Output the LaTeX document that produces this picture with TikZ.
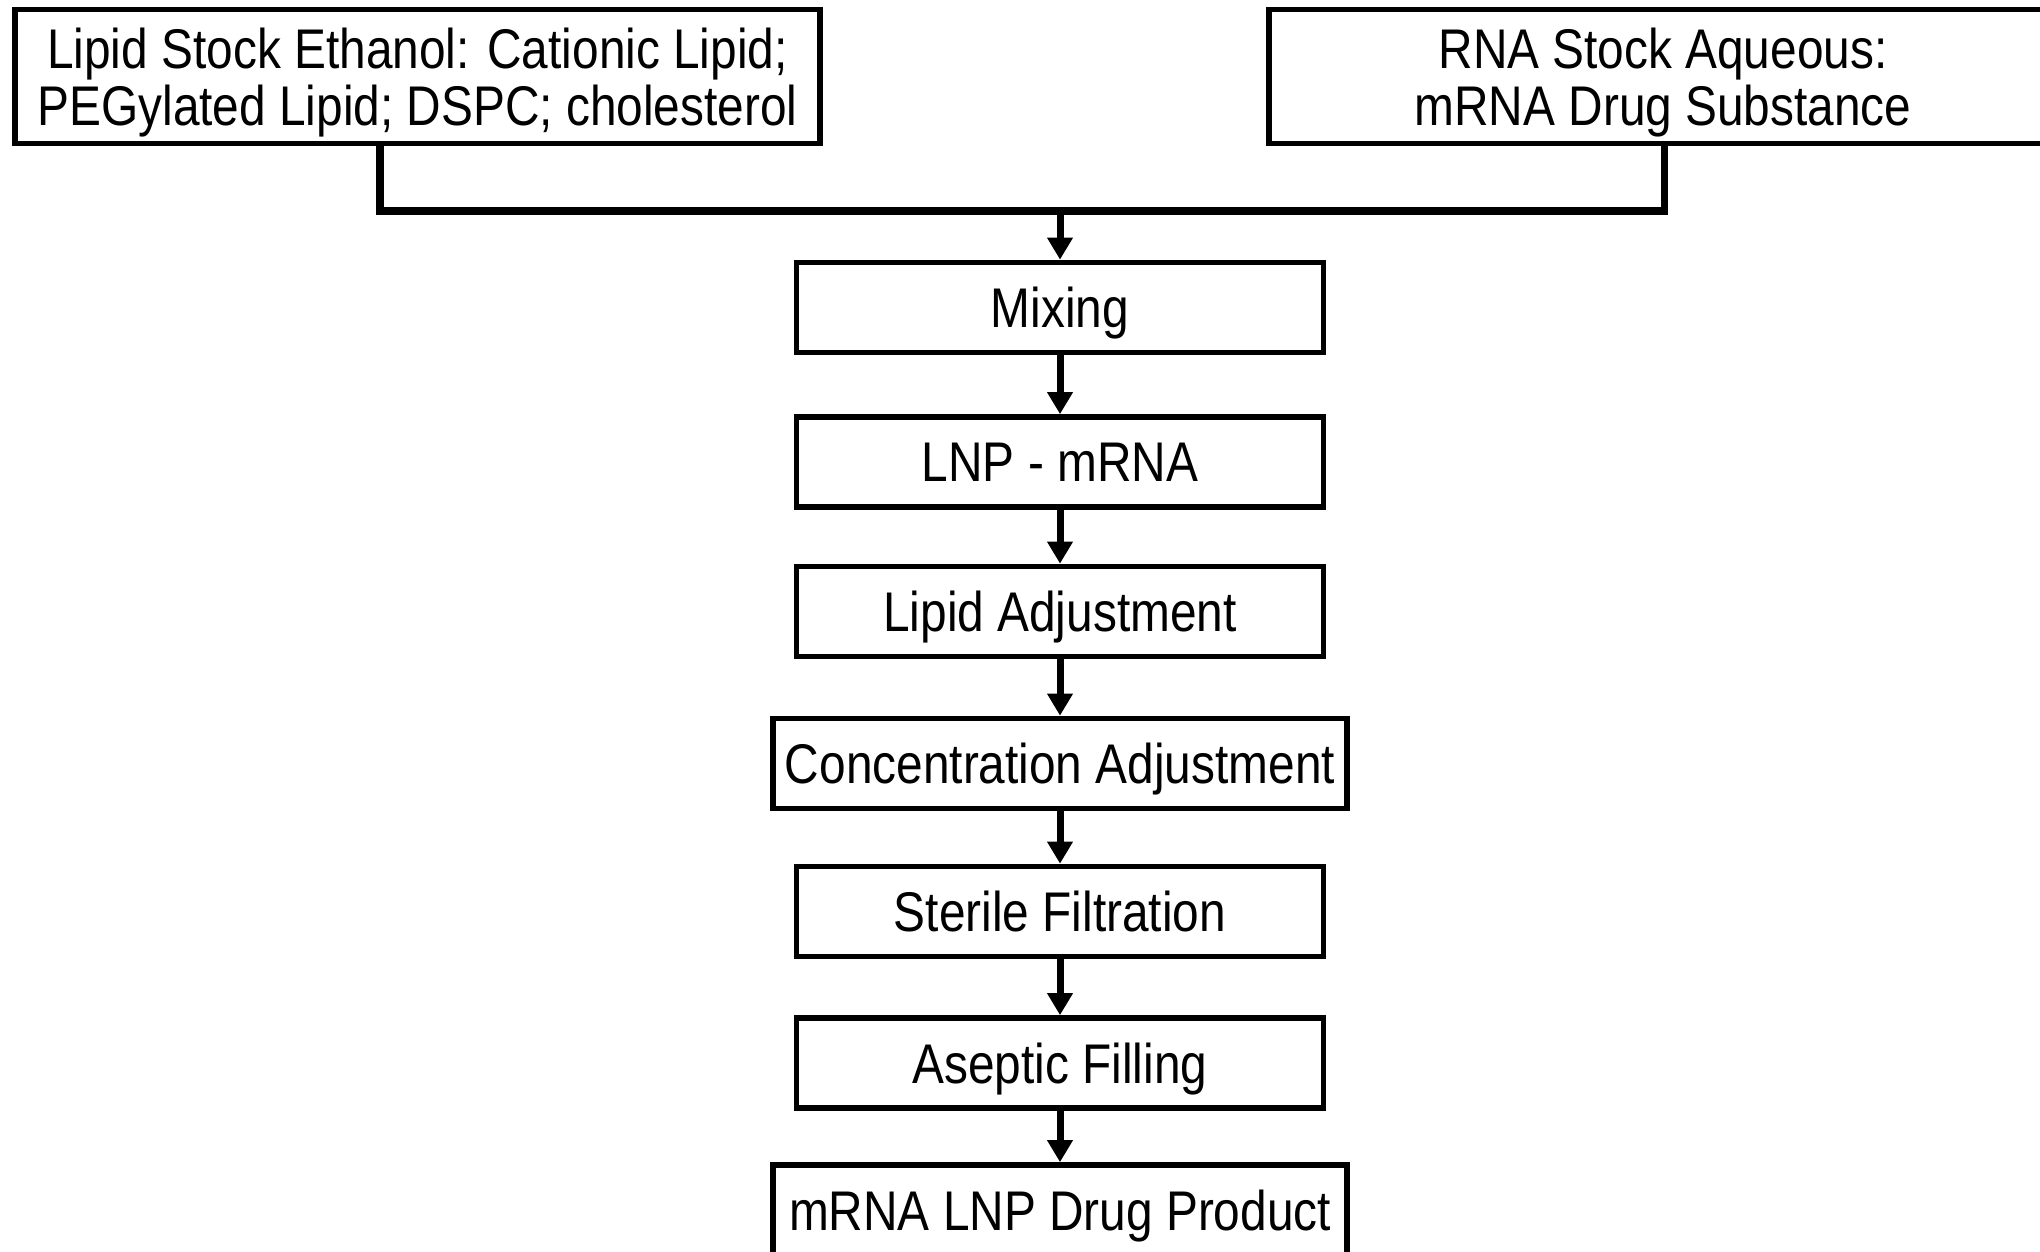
\documentclass[tikz,border=0pt]{standalone}
\usepackage{fontspec}
\setmainfont{Liberation Sans}
\newfontfamily\flowfont{Liberation Sans}[FakeStretch=0.855]
\usetikzlibrary{arrows.meta}

\tikzset{
  stage/.style={draw=black, line width=1.6pt, fill=white, align=center,
    minimum width=5.27cm, minimum height=0.9cm, inner sep=0pt, text depth=0pt,
    font=\flowfont\fontsize{15.9}{16.3}\selectfont},
  stock/.style={stage, minimum height=1.34cm},
  flow/.style={line width=2pt, -{Triangle[width=7pt, length=6.3pt]}},
  feed/.style={line width=2pt}
}

\begin{document}
\begin{tikzpicture}[x=0.01cm, y=0.01cm]
    %\draw[help lines, step=100] (0, -1251) grid (2040, 0);
    \useasboundingbox (0, 0) rectangle (2040, -1251);
    \clip (0, 0) rectangle (2040, -1251);

    \node[stock, minimum width=8.04cm] (lipid) at (417.5, -76.5)
      {Lipid Stock Ethanol: Cationic Lipid;\\PEGylated Lipid; DSPC; cholesterol};
    \node[stock, minimum width=7.87cm] (rna) at (1663, -76.5)
      {RNA Stock Aqueous:\\mRNA Drug Substance};

    \node[stage] (mix) at (1060, -307.5) {Mixing};
    \node[stage] (lnp) at (1060, -462) {LNP - mRNA};
    \node[stage] (lipadj) at (1060, -611.5) {Lipid Adjustment};
    \node[stage, minimum width=5.74cm] (concadj) at (1060, -763.5) {Concentration Adjustment};
    \node[stage] (sterile) at (1060, -911.5) {Sterile Filtration};
    \node[stage] (fill) at (1060, -1063) {Aseptic Filling};
    \node[stage, minimum width=5.74cm] (product) at (1060, -1210) {mRNA LNP Drug Product};

    \coordinate (jl) at (380, -211);
    \coordinate (jr) at (1664, -211);
    \coordinate (jc) at (1060, -211);

    \draw[feed] (lipid.south -| jl) -- (jl) -- (jr) -- (rna.south -| jr);
    \draw[flow] (jc) -- (mix.north);
    \draw[flow] (mix) -- (lnp);
    \draw[flow] (lnp) -- (lipadj);
    \draw[flow] (lipadj) -- (concadj);
    \draw[flow] (concadj) -- (sterile);
    \draw[flow] (sterile) -- (fill);
    \draw[flow] (fill) -- (product);

\end{tikzpicture}
\end{document}
